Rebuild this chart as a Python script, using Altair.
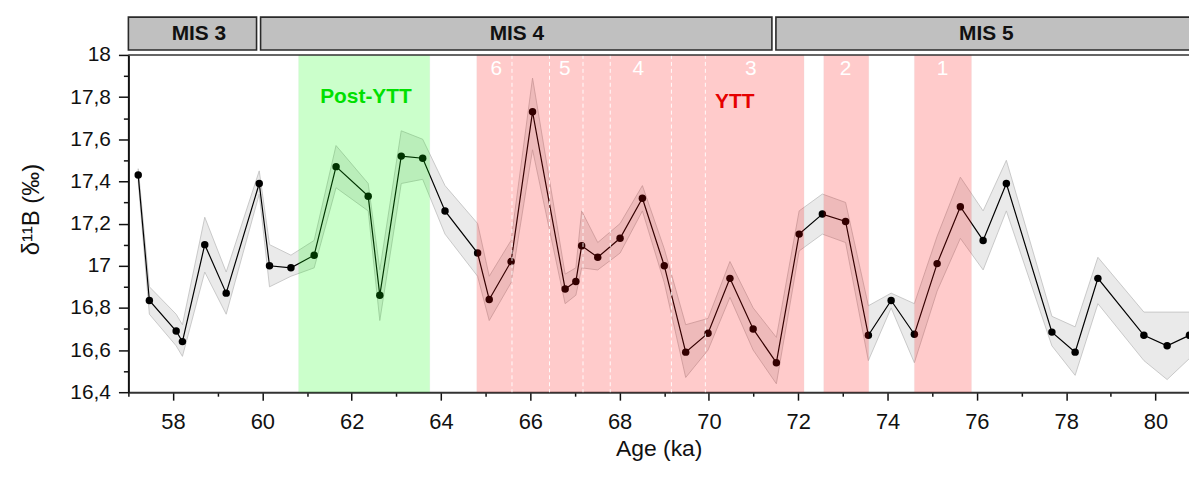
import altair as alt
import pandas as pd

# ---------------- data ----------------
age = [57.22, 57.47, 58.07, 58.21, 58.71, 59.19, 59.93, 60.16, 60.64, 61.16,
       61.65, 62.37, 62.63, 63.11, 63.59, 64.09, 64.82, 65.08, 65.57, 66.05,
       66.78, 67.02, 67.15, 67.51, 68.01, 68.51, 69.00, 69.48, 69.98, 70.47,
       70.99, 71.51, 72.02, 72.54, 73.06, 73.57, 74.08, 74.60, 75.11, 75.63,
       76.14, 76.66, 77.68, 78.20, 78.71, 79.74, 80.26, 80.76]
d11b = [17.43, 16.835, 16.69, 16.64, 17.10, 16.87, 17.39, 17.00, 16.99, 17.05,
        17.47, 17.33, 16.86, 17.52, 17.51, 17.26, 17.06, 16.84, 17.02, 17.73,
        16.89, 16.925, 17.095, 17.04, 17.13, 17.32, 17.00, 16.59, 16.68, 16.94,
        16.70, 16.54, 17.15, 17.245, 17.21, 16.67, 16.835, 16.675, 17.01, 17.28,
        17.12, 17.39, 16.685, 16.59, 16.94, 16.67, 16.62, 16.67]
upper = [17.46, 16.90, 16.77, 16.72, 17.23, 16.97, 17.45, 17.10, 17.05, 17.12,
         17.57, 17.39, 16.98, 17.64, 17.60, 17.38, 17.20, 16.95, 17.12, 17.89,
         16.96, 16.99, 17.26, 17.11, 17.20, 17.38, 17.08, 16.72, 16.75, 17.02,
         16.80, 16.66, 17.26, 17.34, 17.30, 16.81, 16.87, 16.82, 17.14, 17.42,
         17.26, 17.50, 16.76, 16.71, 17.04, 16.78, 16.78, 16.78]
lower = [17.40, 16.77, 16.62, 16.57, 16.97, 16.77, 17.34, 16.90, 16.95, 16.99,
         17.37, 17.26, 16.74, 17.39, 17.41, 17.15, 16.95, 16.74, 16.92, 17.55,
         16.82, 16.86, 16.99, 16.98, 17.06, 17.26, 16.92, 16.47, 16.60, 16.85,
         16.60, 16.44, 17.07, 17.15, 17.11, 16.55, 16.80, 16.54, 16.88, 17.13,
         16.98, 17.26, 16.62, 16.48, 16.82, 16.55, 16.46, 16.56]

mis_names = ["MIS 3", "MIS 4", "MIS 5"]
mis_start = [57.0, 59.96, 71.50]
mis_end = [59.87, 71.41, 81.5]
mis_label_x = [58.58, 65.70, 76.21]

band_start = [60.81, 64.80, 72.57, 74.60]
band_end = [63.75, 72.13, 73.58, 75.88]
band_color = ["#00ff00", "#ff0000", "#ff0000", "#ff0000"]

sub_bounds = [65.59, 66.43, 67.18, 67.79, 69.16, 69.92]
sub_labels = ["6", "5", "4", "3", "2", "1"]
sub_label_x = [65.24, 66.77, 68.42, 70.94, 73.06, 75.23]
sub_label_y = [17.935, 17.935, 17.935, 17.935, 17.935, 17.935]

event_labels = ["Post-YTT", "YTT"]
event_x = [62.32, 70.58]
event_y = [17.80, 17.775]
event_color = ["#00e000", "#e60000"]

x_ticks = [57, 58, 59, 60, 61, 62, 63, 64, 65, 66, 67, 68, 69, 70, 71, 72,
           73, 74, 75, 76, 77, 78, 79, 80]
y_ticks = [16.4, 16.5, 16.6, 16.7, 16.8, 16.9, 17.0, 17.1, 17.2, 17.3, 17.4,
           17.5, 17.6, 17.7, 17.8, 17.9, 18.0]
x_domain = [57.0, 80.75]
y_domain = [16.4, 18.0]

FONT = "Liberation Sans"

# ---------------- tables ----------------
series = pd.DataFrame({"age": age, "d11b": d11b, "upper": upper, "lower": lower})
mis = pd.DataFrame({"name": mis_names, "start": mis_start, "end": mis_end, "lx": mis_label_x})
bands = pd.DataFrame({"start": band_start, "end": band_end, "color": band_color})
subs = pd.DataFrame({"b": sub_bounds})
sublab = pd.DataFrame({"t": sub_labels, "x": sub_label_x, "y": sub_label_y})
events = pd.DataFrame({"t": event_labels, "x": event_x, "y": event_y, "c": event_color})
top = pd.DataFrame({"v": [y_domain[1]]})

xscale = alt.Scale(domain=x_domain, nice=False, zero=False)
yscale = alt.Scale(domain=y_domain, nice=False, zero=False)

x_axis = alt.Axis(
    values=x_ticks,
    title="Age (ka)",
    labelExpr="datum.value % 2 === 0 ? datum.label : ''",
    tickSize={"condition": {"test": "datum.value % 2 === 0", "value": 8}, "value": 4},
    labelPadding=11,
    labelFontSize=22,
    labelFont=FONT,
    labelColor="#111",
    labelOverlap=False,
    labelFlush=False,
    titleFont=FONT,
    titleFontSize=23,
    titleFontWeight="normal",
    titleColor="#111",
    titlePadding=6,
    domainColor="#333",
    domainWidth=2,
    tickColor="#111",
    tickWidth=1.5,
    grid=False,
)
y_axis = alt.Axis(
    values=y_ticks,
    title="δ¹¹B (‰)",
    labelExpr="round(datum.value*10) % 2 === 0 ? replace(format(datum.value, '.1~f'), '.', ',') : ''",
    tickSize={"condition": {"test": "round(datum.value*10) % 2 === 0", "value": 10}, "value": 5},
    labelPadding=8,
    labelFontSize=21,
    labelFont=FONT,
    labelColor="#111",
    labelOverlap=False,
    titleFont=FONT,
    titleFontSize=24,
    titleFontWeight="normal",
    titleColor="#111",
    titlePadding=26,
    titleY=155,
    domainColor="#111",
    domainWidth=2,
    tickColor="#111",
    tickWidth=1.5,
    grid=False,
)


def X(field):
    return alt.X(field, type="quantitative", scale=xscale, axis=x_axis)


def Y(field):
    return alt.Y(field, type="quantitative", scale=yscale, axis=y_axis)


area = alt.Chart(series).mark_area(
    color="#e4e4e4", opacity=0.75, stroke="#a8a8a8", strokeWidth=0.8
).encode(x=X("age"), y=Y("upper"), y2="lower")

line = alt.Chart(series).mark_line(color="#000", strokeWidth=1.2).encode(
    x=X("age"), y=Y("d11b")
)
points = alt.Chart(series).mark_circle(size=56, color="#000", opacity=1).encode(
    x=X("age"), y=Y("d11b")
)

band = alt.Chart(bands).mark_rect(
    opacity=0.2, stroke="#606060", strokeOpacity=0.15, strokeWidth=1
).encode(x=X("start"), x2="end", color=alt.Color("color:N", scale=None))

dashes = alt.Chart(subs).mark_rule(
    color="white", strokeDash=[4, 3], strokeWidth=1, opacity=0.9
).encode(x=X("b"))

subtext = alt.Chart(sublab).mark_text(
    color="white", fontSize=21, font=FONT, baseline="middle", align="center"
).encode(x=X("x"), y=Y("y"), text="t:N")

evtext = alt.Chart(events).mark_text(
    fontSize=21, font=FONT, fontWeight="bold", baseline="middle", align="center"
).encode(x=X("x"), y=Y("y"), text="t:N", color=alt.Color("c:N", scale=None))

topline = alt.Chart(top).mark_rule(color="#333", strokeWidth=1.5).encode(y=Y("v"))

header = alt.Chart(mis).mark_rect(
    fill="#c0c0c0", stroke="#2a2a2a", strokeWidth=1.6
).encode(x=X("start"), x2="end", y=alt.value(-38), y2=alt.value(-5))

header_text = alt.Chart(mis).mark_text(
    fontSize=21, font=FONT, fontWeight="bold", color="#111", baseline="middle", align="center"
).encode(x=X("lx"), y=alt.value(-21), text="name:N")

chart = alt.layer(
    area, line, points, band, dashes, subtext, evtext, topline, header, header_text
).properties(
    width=1066,
    height=339,
    autosize=alt.AutoSizeParams(type="none"),
    padding={"left": 121, "top": 46, "right": 0, "bottom": 70},
).configure_view(stroke=None)

chart.save("out.html", embed_options={"renderer": "svg", "actions": False})
